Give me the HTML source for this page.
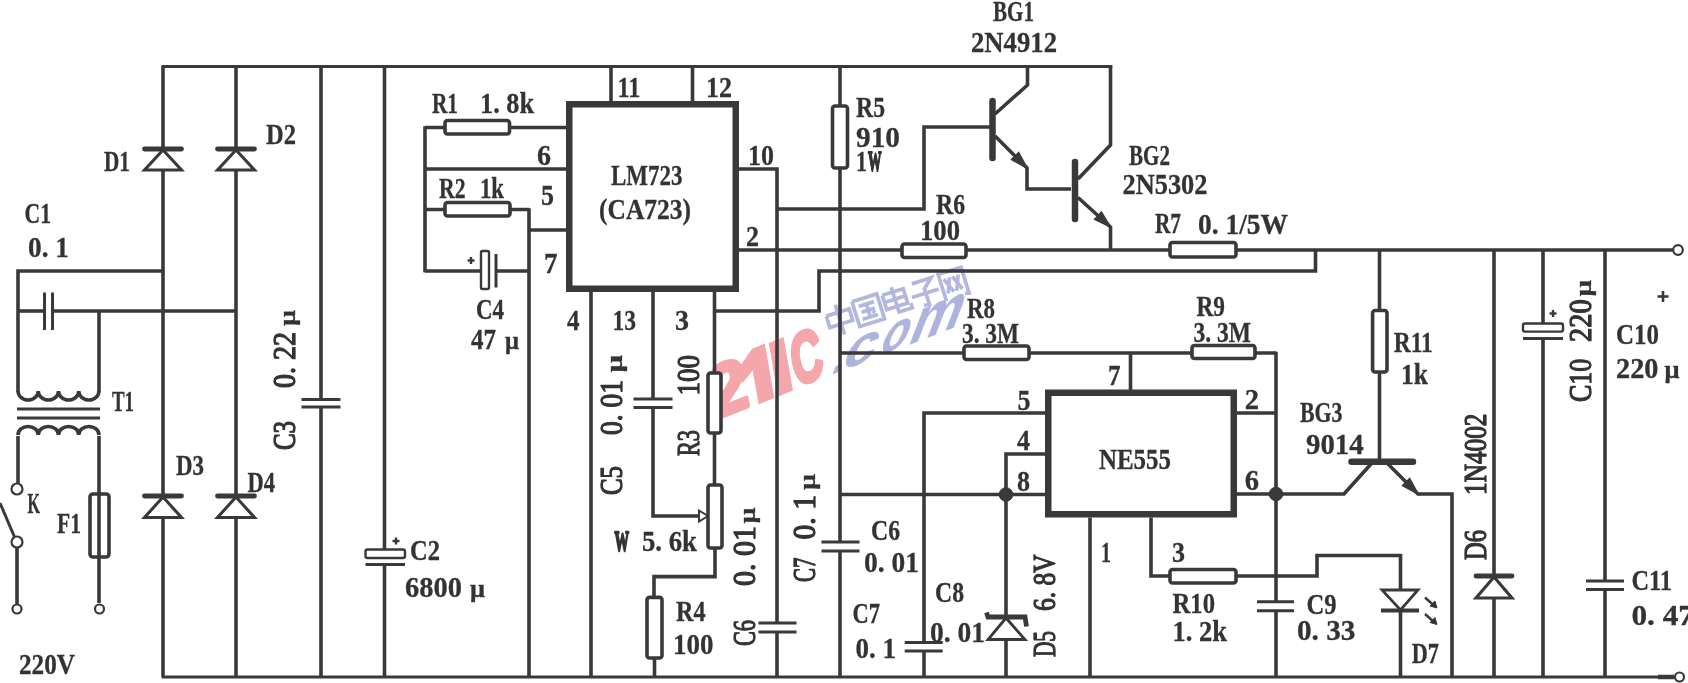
<!DOCTYPE html>
<html><head><meta charset="utf-8"><title>LM723 power supply schematic</title>
<style>
html,body{margin:0;padding:0;background:#fff;}
svg{display:block;filter:blur(0.45px)}
svg line, svg path, svg rect, svg circle{stroke:#393939;stroke-linecap:butt;stroke-linejoin:miter}
svg g.cn path{stroke:#b3b7de}
svg text{font-family:"Liberation Serif",serif;font-weight:bold;fill:#333;stroke:#333;stroke-width:0.3;stroke-linejoin:round}
</style></head><body>
<svg width="1688" height="683" viewBox="0 0 1688 683">
<rect x="0" y="0" width="1688" height="683" fill="#fff" stroke="none" style="stroke:none"/>
<g transform="translate(721,419) rotate(-22) skewX(-12)" style="fill:#f4a6ab;stroke:#f4a6ab;stroke-width:4;stroke-linejoin:miter"><text x="-7" y="-2" font-size="70" textLength="39" lengthAdjust="spacingAndGlyphs" style="font-family:'Liberation Sans',sans-serif;fill:#f4a6ab;stroke:#f4a6ab;stroke-width:4.5">2</text><path d="M41,0 L57,0 L57,-53 L44,-53 L28,-41 L28,-26 L41,-34 Z" style="stroke:#f4a6ab;stroke-width:1;fill:#f4a6ab"/><path d="M62,0 L77,0 L77,-52 L62,-52 Z" style="stroke:#f4a6ab;stroke-width:1;fill:#f4a6ab"/><text x="81" y="-2" font-size="69" textLength="32" lengthAdjust="spacingAndGlyphs" style="font-family:'Liberation Sans',sans-serif;fill:#f4a6ab;stroke:#f4a6ab;stroke-width:4.5">C</text></g>
<g transform="translate(830,338) rotate(-17.5)" style="stroke:#b3b7de;stroke-width:3.7;fill:none" class="cn"><path d="M3.0,-22.0 L27.0,-22.0 L27.0,-10.0 L3.0,-10.0 L3.0,-22.0"/><path d="M15.0,-30.0 L15.0,1.0"/><path d="M31.8,-28.0 L57.8,-28.0 L57.8,-2.0 L31.8,-2.0 L31.8,-28.0"/><path d="M36.8,-21.5 L52.8,-21.5"/><path d="M37.8,-15.0 L51.8,-15.0"/><path d="M36.8,-8.0 L52.8,-8.0"/><path d="M44.8,-21.5 L44.8,-8.0"/><path d="M48.8,-13.0 L50.8,-10.5"/><path d="M62.6,-25.0 L84.6,-25.0 L84.6,-10.0 L62.6,-10.0 L62.6,-25.0"/><path d="M62.6,-17.5 L84.6,-17.5"/><path d="M73.6,-30.0 L73.6,-4.0 L87.6,-4.0 L87.6,-9.0"/><path d="M94.4,-27.0 L114.4,-27.0 L105.4,-19.0"/><path d="M104.9,-20.0 L104.9,-2.0 L99.4,-3.0"/><path d="M90.4,-14.0 L118.4,-14.0"/><path d="M122.2,0.0 L122.2,-28.0 L146.2,-28.0 L146.2,-1.0 L142.2,-2.0"/><path d="M126.2,-22.0 L132.2,-7.0"/><path d="M132.2,-22.0 L126.2,-7.0"/><path d="M135.2,-22.0 L141.2,-7.0"/><path d="M141.2,-22.0 L135.2,-7.0"/></g>
<g transform="translate(833,374) rotate(-21) skewX(-42)" style="font-family:'Liberation Sans',sans-serif;font-weight:bold;fill:#aeb3dc;stroke:#aeb3dc;stroke-width:4.5" class="com"><text x="-3" y="0" font-size="40" style="font-family:inherit;fill:inherit;stroke:inherit">.</text><text x="7" y="0" font-size="47" textLength="35" lengthAdjust="spacingAndGlyphs" style="font-family:inherit;fill:inherit;stroke:inherit">c</text><text x="47" y="-1" font-size="46" textLength="29" lengthAdjust="spacingAndGlyphs" style="font-family:inherit;fill:inherit;stroke:inherit">o</text><text x="78" y="0" font-size="54" textLength="55" lengthAdjust="spacingAndGlyphs" style="font-family:inherit;fill:inherit;stroke:inherit">m</text></g>
<line x1="161.7" y1="66.5" x2="1112.3" y2="66.5" stroke-width="3"/>
<line x1="161.7" y1="677" x2="1673" y2="677" stroke-width="3"/>
<line x1="1658" y1="677" x2="1674" y2="677" stroke-width="4.5"/>
<line x1="163" y1="66" x2="163" y2="149" stroke-width="3.6"/>
<line x1="163" y1="170" x2="163" y2="496" stroke-width="3.6"/>
<line x1="163" y1="517.5" x2="163" y2="677" stroke-width="3.6"/>
<path d="M163,150 L144.5,170 L181.5,170 Z" stroke-width="3.1" fill="none"/>
<line x1="144.5" y1="149" x2="181.5" y2="149" stroke-width="4.8" style="stroke-linecap:round"/>
<path d="M163,497 L144.5,517.5 L181.5,517.5 Z" stroke-width="3.1" fill="none"/>
<line x1="144.5" y1="496" x2="181.5" y2="496" stroke-width="4.8" style="stroke-linecap:round"/>
<line x1="236" y1="66" x2="236" y2="149" stroke-width="3.6"/>
<line x1="236" y1="170" x2="236" y2="496" stroke-width="3.6"/>
<line x1="236" y1="517.5" x2="236" y2="677" stroke-width="3.6"/>
<path d="M236,150 L217.5,170 L254.5,170 Z" stroke-width="3.1" fill="none"/>
<line x1="217.5" y1="149" x2="254.5" y2="149" stroke-width="4.8" style="stroke-linecap:round"/>
<path d="M236,497 L217.5,517.5 L254.5,517.5 Z" stroke-width="3.1" fill="none"/>
<line x1="217.5" y1="496" x2="254.5" y2="496" stroke-width="4.8" style="stroke-linecap:round"/>
<path d="M163,271 L18,271 L18,392" stroke-width="3.6" fill="none"/>
<line x1="18" y1="311" x2="44.5" y2="311" stroke-width="3.6"/>
<line x1="52.5" y1="311" x2="236" y2="311" stroke-width="3.6"/>
<line x1="44.5" y1="292.5" x2="44.5" y2="330" stroke-width="3"/>
<line x1="52.5" y1="292.5" x2="52.5" y2="330" stroke-width="3"/>
<line x1="99" y1="311" x2="99" y2="392" stroke-width="3.6"/>
<path d="M18,391 a10.12,9 0 0 0 20.25,0 a10.12,9 0 0 0 20.25,0 a10.12,9 0 0 0 20.25,0 a10.12,9 0 0 0 20.25,0" stroke-width="3.6" fill="none"/>
<line x1="17" y1="409" x2="100" y2="409" stroke-width="3"/>
<line x1="17" y1="418" x2="100" y2="418" stroke-width="3"/>
<path d="M18,435 a10.12,8.5 0 0 1 20.25,0 a10.12,8.5 0 0 1 20.25,0 a10.12,8.5 0 0 1 20.25,0 a10.12,8.5 0 0 1 20.25,0" stroke-width="3.6" fill="none"/>
<line x1="18" y1="436" x2="18" y2="483" stroke-width="3.6"/>
<line x1="99" y1="436" x2="99" y2="603" stroke-width="3.6"/>
<circle cx="17" cy="489" r="5.5" fill="#fff" stroke-width="2.2"/>
<line x1="0" y1="503" x2="14.5" y2="537" stroke-width="3"/>
<circle cx="17" cy="542" r="5.5" fill="#fff" stroke-width="2.2"/>
<line x1="17" y1="548" x2="17" y2="604" stroke-width="3.6"/>
<circle cx="17" cy="609" r="4.5" fill="#fff" stroke-width="2.2"/>
<rect x="90" y="494" width="19" height="63" rx="3" stroke-width="3.6" fill="none"/>
<circle cx="99.5" cy="609" r="4.5" fill="#fff" stroke-width="2.2"/>
<line x1="321" y1="66" x2="321" y2="399.5" stroke-width="3.6"/>
<line x1="321" y1="407" x2="321" y2="677" stroke-width="3.6"/>
<line x1="301.5" y1="399.5" x2="340.5" y2="399.5" stroke-width="3"/>
<line x1="301.5" y1="407" x2="340.5" y2="407" stroke-width="3"/>
<line x1="384.5" y1="66" x2="384.5" y2="549.5" stroke-width="3.6"/>
<line x1="384.5" y1="564.5" x2="384.5" y2="677" stroke-width="3.6"/>
<rect x="365.5" y="549.5" width="39.5" height="8.5" rx="2" stroke-width="2.4" fill="#fff"/>
<line x1="365.5" y1="564.5" x2="405" y2="564.5" stroke-width="3"/>
<line x1="392.5" y1="541" x2="399.5" y2="541" stroke-width="2.4"/>
<line x1="396" y1="537.5" x2="396" y2="544.5" stroke-width="2.4"/>
<rect x="569.25" y="104.25" width="166.5" height="184.5" stroke-width="6.5" fill="none"/>
<line x1="611" y1="66" x2="611" y2="101" stroke-width="3.6"/>
<line x1="692.5" y1="66" x2="692.5" y2="101" stroke-width="3.6"/>
<line x1="425" y1="127.5" x2="566" y2="127.5" stroke-width="3.6"/>
<rect x="445" y="120.5" width="64.5" height="13.5" rx="2.5" stroke-width="3.6" fill="#fff"/>
<line x1="425" y1="126.2" x2="425" y2="272.3" stroke-width="3.6"/>
<line x1="425" y1="169" x2="566" y2="169" stroke-width="3.6"/>
<line x1="425" y1="209.5" x2="529" y2="209.5" stroke-width="3.6"/>
<rect x="445" y="202.5" width="65" height="13.5" rx="2.5" stroke-width="3.6" fill="#fff"/>
<line x1="529" y1="208.2" x2="529" y2="677" stroke-width="3.6"/>
<line x1="529" y1="230" x2="566" y2="230" stroke-width="3.6"/>
<line x1="425" y1="271" x2="481" y2="271" stroke-width="3.6"/>
<rect x="481" y="251" width="8" height="38" rx="1.5" stroke-width="2.4" fill="#fff"/>
<line x1="496" y1="254" x2="496" y2="287.5" stroke-width="3"/>
<line x1="496" y1="271" x2="529" y2="271" stroke-width="3.6"/>
<line x1="467.5" y1="260.5" x2="474.5" y2="260.5" stroke-width="2.4"/>
<line x1="471" y1="257" x2="471" y2="264" stroke-width="2.4"/>
<path d="M739,169 L777,169 L777,623" stroke-width="3.6" fill="none"/>
<line x1="777" y1="632" x2="777" y2="677" stroke-width="3.6"/>
<line x1="758.5" y1="623" x2="796.5" y2="623" stroke-width="3"/>
<line x1="758.5" y1="632" x2="796.5" y2="632" stroke-width="3"/>
<path d="M777,209 L924,209 L924,127 L992,127" stroke-width="3.6" fill="none"/>
<line x1="739" y1="250" x2="1673" y2="250" stroke-width="3.6"/>
<rect x="902" y="244" width="64" height="13.5" rx="2.5" stroke-width="3.6" fill="#fff"/>
<rect x="1170" y="242.5" width="66" height="14.5" rx="2.5" stroke-width="3.6" fill="#fff"/>
<circle cx="1678" cy="250" r="4.8" fill="#fff" stroke-width="2.2"/>
<line x1="591" y1="292" x2="591" y2="677" stroke-width="3.6"/>
<line x1="653" y1="292" x2="653" y2="399" stroke-width="3.6"/>
<line x1="633.5" y1="399" x2="672.5" y2="399" stroke-width="3"/>
<line x1="633.5" y1="407.5" x2="672.5" y2="407.5" stroke-width="3"/>
<path d="M653,407.5 L653,516 L699,516" stroke-width="3.6" fill="none"/>
<path d="M699,510.5 L708,516 L699,521.5 Z" stroke-width="2" fill="none"/>
<line x1="714.5" y1="292" x2="714.5" y2="373" stroke-width="3.6"/>
<rect x="708" y="373" width="13" height="60" rx="2.5" stroke-width="3.6" fill="#fff"/>
<line x1="714.5" y1="433" x2="714.5" y2="485" stroke-width="3.6"/>
<rect x="708" y="485" width="14" height="63" rx="2.5" stroke-width="3.6" fill="#fff"/>
<path d="M715,548 L715,576.6 L654,576.6 L654,597.4" stroke-width="3.6" fill="none"/>
<rect x="647" y="597.4" width="15" height="60.60000000000002" rx="2.5" stroke-width="3.6" fill="#fff"/>
<line x1="654.5" y1="658" x2="654.5" y2="677" stroke-width="3.6"/>
<path d="M714.5,311 L819,311 L819,271 L1315.5,271 L1315.5,250" stroke-width="3.6" fill="none"/>
<line x1="840" y1="66" x2="840" y2="106" stroke-width="3.6"/>
<rect x="832.5" y="106" width="15.0" height="62" rx="2.5" stroke-width="3.6" fill="#fff"/>
<line x1="840" y1="168" x2="840" y2="542" stroke-width="3.6"/>
<line x1="821.5" y1="542" x2="859.5" y2="542" stroke-width="3"/>
<line x1="821.5" y1="551" x2="859.5" y2="551" stroke-width="3"/>
<line x1="840" y1="551" x2="840" y2="677" stroke-width="3.6"/>
<line x1="840" y1="353" x2="1276" y2="353" stroke-width="3.6"/>
<rect x="964" y="346" width="65" height="13.5" rx="2.5" stroke-width="3.6" fill="#fff"/>
<rect x="1192" y="345.5" width="63" height="13.0" rx="2.5" stroke-width="3.6" fill="#fff"/>
<line x1="1276" y1="351.7" x2="1276" y2="601.7" stroke-width="3.6"/>
<line x1="1257.0" y1="601.7" x2="1294.0" y2="601.7" stroke-width="3"/>
<line x1="1257.0" y1="610.7" x2="1294.0" y2="610.7" stroke-width="3"/>
<line x1="1276" y1="610.7" x2="1276" y2="677" stroke-width="3.6"/>
<line x1="1130.5" y1="353" x2="1130.5" y2="390" stroke-width="3.6"/>
<rect x="1048.25" y="392.75" width="185.5" height="121.5" stroke-width="6.5" fill="none"/>
<path d="M1045,413 L924,413 L924,642.5" stroke-width="3.6" fill="none"/>
<line x1="904.7" y1="642.5" x2="942.7" y2="642.5" stroke-width="3"/>
<line x1="904.7" y1="651" x2="942.7" y2="651" stroke-width="3"/>
<line x1="924" y1="651" x2="924" y2="677" stroke-width="3.6"/>
<path d="M1045,454 L1006,454 L1006,617" stroke-width="3.6" fill="none"/>
<line x1="840" y1="494.5" x2="1045" y2="494.5" stroke-width="3.6"/>
<circle cx="1006" cy="494.5" r="6.8" fill="#393939" stroke="none"/>
<path d="M1006,618 L988,639.5 L1025,639.5 Z" stroke-width="2.8" fill="none"/>
<path d="M986.5,612.5 L988,617 L1025,617 L1026.5,626.5" stroke-width="4.8" fill="none"/>
<line x1="1006" y1="639.5" x2="1006" y2="677" stroke-width="3.6"/>
<line x1="1237" y1="413" x2="1276" y2="413" stroke-width="3.6"/>
<path d="M1237,494 L1344,494 L1371,464" stroke-width="3.6" fill="none"/>
<circle cx="1276" cy="494" r="6.8" fill="#393939" stroke="none"/>
<line x1="1351.5" y1="461.7" x2="1413" y2="461.7" stroke-width="6.5" style="stroke-linecap:round"/>
<line x1="1379.5" y1="250" x2="1379.5" y2="310.5" stroke-width="3.6"/>
<rect x="1372.6" y="310.5" width="14.400000000000091" height="61.5" rx="2.5" stroke-width="3.6" fill="#fff"/>
<line x1="1379.5" y1="372" x2="1379.5" y2="461.7" stroke-width="3.6"/>
<path d="M1388,464 L1418,494 L1452,494 L1452,677" stroke-width="3.6" fill="none"/>
<path d="M1418.5,494.5 L1402.3,485.7 L1409.7,478.3 Z" stroke-width="1.2" fill="#3a3a3a"/>
<line x1="1090" y1="517.5" x2="1090" y2="677" stroke-width="3.6"/>
<path d="M1151,517.5 L1151,576 L1170,576" stroke-width="3.6" fill="none"/>
<rect x="1170" y="569.5" width="66" height="13.5" rx="2.5" stroke-width="3.6" fill="#fff"/>
<path d="M1236,576 L1317,576 L1317,555.5 L1400.5,555.5 L1400.5,590" stroke-width="3.6" fill="none"/>
<path d="M1382,590 L1418,590 L1400.5,610 Z" stroke-width="2.8" fill="none"/>
<line x1="1381" y1="610.5" x2="1419" y2="610.5" stroke-width="4"/>
<line x1="1400.5" y1="610" x2="1400.5" y2="677" stroke-width="3.6"/>
<line x1="1425" y1="597.5" x2="1434" y2="605.5" stroke-width="2.4"/>
<path d="M1437,608.0 L1430,606.0 L1435,601.0 Z" stroke-width="1" fill="#333"/>
<line x1="1425" y1="614" x2="1434" y2="622" stroke-width="2.4"/>
<path d="M1437,624.5 L1430,622.5 L1435,617.5 Z" stroke-width="1" fill="#333"/>
<line x1="1494" y1="250" x2="1494" y2="576" stroke-width="3.6"/>
<path d="M1494,577 L1476,598 L1512,598 Z" stroke-width="3.1" fill="none"/>
<line x1="1476.0" y1="576" x2="1512.0" y2="576" stroke-width="4.8" style="stroke-linecap:round"/>
<line x1="1494" y1="598" x2="1494" y2="677" stroke-width="3.6"/>
<line x1="1543" y1="250" x2="1543" y2="323.5" stroke-width="3.6"/>
<rect x="1523" y="323.5" width="40" height="8.100000000000023" rx="2" stroke-width="2.4" fill="#fff"/>
<line x1="1523" y1="338.5" x2="1563" y2="338.5" stroke-width="3"/>
<line x1="1543" y1="338.5" x2="1543" y2="677" stroke-width="3.6"/>
<line x1="1549.5" y1="313.5" x2="1556.5" y2="313.5" stroke-width="2.4"/>
<line x1="1553" y1="310" x2="1553" y2="317" stroke-width="2.4"/>
<line x1="1605" y1="250" x2="1605" y2="581" stroke-width="3.6"/>
<line x1="1586" y1="581" x2="1624" y2="581" stroke-width="3"/>
<line x1="1586" y1="589.6" x2="1624" y2="589.6" stroke-width="3"/>
<line x1="1605" y1="589.6" x2="1605" y2="677" stroke-width="3.6"/>
<circle cx="1679.5" cy="677" r="4.5" fill="#fff" stroke-width="2.2"/>
<line x1="992.5" y1="101" x2="992.5" y2="158" stroke-width="6.5" style="stroke-linecap:round"/>
<path d="M995,114 L1027.5,85 L1027.5,66" stroke-width="3.6" fill="none"/>
<path d="M995,136 L1027,168 L1027,189 L1071,189" stroke-width="3.6" fill="none"/>
<path d="M1027.5,168.5 L1011.3,159.7 L1018.7,152.3 Z" stroke-width="1.2" fill="#3a3a3a"/>
<line x1="1075" y1="162" x2="1075" y2="219" stroke-width="6.5" style="stroke-linecap:round"/>
<path d="M1078,179 L1110.5,145 L1110.5,66" stroke-width="3.6" fill="none"/>
<path d="M1078,197.5 L1110.5,227 L1110.5,250" stroke-width="3.6" fill="none"/>
<path d="M1111,227.5 L1094.4,219.4 L1101.4,211.8 Z" stroke-width="1.2" fill="#3a3a3a"/>
<line x1="1657.5" y1="296.5" x2="1668.5" y2="296.5" stroke-width="2.6"/>
<line x1="1663" y1="291" x2="1663" y2="302" stroke-width="2.6"/>
<text x="104" y="171" font-size="29" textLength="26.0" lengthAdjust="spacingAndGlyphs">D1</text>
<text x="266" y="144" font-size="29" textLength="30.0" lengthAdjust="spacingAndGlyphs">D2</text>
<text x="24.5" y="222.5" font-size="29" textLength="26.5" lengthAdjust="spacingAndGlyphs">C1</text>
<text x="28" y="257" font-size="29" textLength="41.0" lengthAdjust="spacingAndGlyphs">0. 1</text>
<text x="112" y="410.5" font-size="29" textLength="22.0" lengthAdjust="spacingAndGlyphs">T1</text>
<text x="27.5" y="512.5" font-size="29" textLength="12.5" lengthAdjust="spacingAndGlyphs">K</text>
<text x="57" y="533" font-size="29" textLength="24.0" lengthAdjust="spacingAndGlyphs">F1</text>
<text x="19" y="674" font-size="29" textLength="56.0" lengthAdjust="spacingAndGlyphs">220V</text>
<text x="176" y="475" font-size="29" textLength="28.0" lengthAdjust="spacingAndGlyphs">D3</text>
<text x="247.5" y="491.5" font-size="29" textLength="27.5" lengthAdjust="spacingAndGlyphs">D4</text>
<text x="410" y="559.5" font-size="29" textLength="30.0" lengthAdjust="spacingAndGlyphs">C2</text>
<text x="405" y="596.5" font-size="29" textLength="57.0" lengthAdjust="spacingAndGlyphs">6800</text>
<text x="470" y="596.5" font-size="25" textLength="15.0" lengthAdjust="spacingAndGlyphs">μ</text>
<text x="432" y="113" font-size="29" textLength="26.0" lengthAdjust="spacingAndGlyphs">R1</text>
<text x="480" y="113" font-size="29" textLength="54.0" lengthAdjust="spacingAndGlyphs">1. 8k</text>
<text x="537" y="164.5" font-size="29" textLength="14.0" lengthAdjust="spacingAndGlyphs">6</text>
<text x="439" y="198" font-size="29" textLength="26.5" lengthAdjust="spacingAndGlyphs">R2</text>
<text x="480" y="198" font-size="29" textLength="24.0" lengthAdjust="spacingAndGlyphs">1k</text>
<text x="541" y="205" font-size="29" textLength="13.0" lengthAdjust="spacingAndGlyphs">5</text>
<text x="544" y="273" font-size="29" textLength="13.5" lengthAdjust="spacingAndGlyphs">7</text>
<text x="617.5" y="97" font-size="29" textLength="23.0" lengthAdjust="spacingAndGlyphs">11</text>
<text x="706" y="97" font-size="29" textLength="26.0" lengthAdjust="spacingAndGlyphs">12</text>
<text x="748" y="164.5" font-size="29" textLength="26.0" lengthAdjust="spacingAndGlyphs">10</text>
<text x="611" y="185" font-size="29" textLength="71.5" lengthAdjust="spacingAndGlyphs">LM723</text>
<text x="599" y="218.5" font-size="29" textLength="92.0" lengthAdjust="spacingAndGlyphs">(CA723)</text>
<text x="746" y="246" font-size="29" textLength="13.0" lengthAdjust="spacingAndGlyphs">2</text>
<text x="567" y="330" font-size="29" textLength="12.5" lengthAdjust="spacingAndGlyphs">4</text>
<text x="612.5" y="330" font-size="29" textLength="23.5" lengthAdjust="spacingAndGlyphs">13</text>
<text x="675" y="330" font-size="29" textLength="14.0" lengthAdjust="spacingAndGlyphs">3</text>
<text x="476" y="319" font-size="29" textLength="28.0" lengthAdjust="spacingAndGlyphs">C4</text>
<text x="471" y="349" font-size="29" textLength="25.0" lengthAdjust="spacingAndGlyphs">47</text>
<text x="505" y="349" font-size="25" textLength="14.0" lengthAdjust="spacingAndGlyphs">μ</text>
<text style="stroke-width:2.3" x="614.5" y="551" font-size="29" textLength="14.5" lengthAdjust="spacingAndGlyphs">W</text>
<text x="642" y="551" font-size="29" textLength="55.0" lengthAdjust="spacingAndGlyphs">5. 6k</text>
<text x="676" y="620.5" font-size="29" textLength="29.5" lengthAdjust="spacingAndGlyphs">R4</text>
<text x="673" y="654" font-size="29" textLength="40.5" lengthAdjust="spacingAndGlyphs">100</text>
<text x="856" y="117" font-size="29" textLength="29.0" lengthAdjust="spacingAndGlyphs">R5</text>
<text x="856" y="146.5" font-size="29" textLength="44.0" lengthAdjust="spacingAndGlyphs">910</text>
<text x="856" y="171" font-size="29" textLength="11.0" lengthAdjust="spacingAndGlyphs">1</text>
<text style="stroke-width:2.0" x="868" y="171" font-size="29" textLength="13.5" lengthAdjust="spacingAndGlyphs">W</text>
<text x="993" y="21" font-size="29" textLength="41.0" lengthAdjust="spacingAndGlyphs">BG1</text>
<text x="971" y="52" font-size="29" textLength="86.0" lengthAdjust="spacingAndGlyphs">2N4912</text>
<text x="1129" y="165" font-size="29" textLength="41.0" lengthAdjust="spacingAndGlyphs">BG2</text>
<text x="1122.5" y="194" font-size="29" textLength="85.0" lengthAdjust="spacingAndGlyphs">2N5302</text>
<text x="936" y="214" font-size="29" textLength="29.0" lengthAdjust="spacingAndGlyphs">R6</text>
<text x="920" y="239.5" font-size="29" textLength="40.0" lengthAdjust="spacingAndGlyphs">100</text>
<text x="1155" y="233" font-size="29" textLength="26.0" lengthAdjust="spacingAndGlyphs">R7</text>
<text x="1198" y="233.5" font-size="29" textLength="90.0" lengthAdjust="spacingAndGlyphs">0. 1/5W</text>
<text x="967" y="317.5" font-size="29" textLength="28.0" lengthAdjust="spacingAndGlyphs">R8</text>
<text x="962" y="342.5" font-size="29" textLength="57.0" lengthAdjust="spacingAndGlyphs">3. 3M</text>
<text x="1196.5" y="316" font-size="29" textLength="28.5" lengthAdjust="spacingAndGlyphs">R9</text>
<text x="1193.5" y="342" font-size="29" textLength="57.5" lengthAdjust="spacingAndGlyphs">3. 3M</text>
<text x="1108" y="384.5" font-size="29" textLength="12.5" lengthAdjust="spacingAndGlyphs">7</text>
<text x="1017.5" y="410" font-size="29" textLength="13.0" lengthAdjust="spacingAndGlyphs">5</text>
<text x="1017" y="450" font-size="29" textLength="13.0" lengthAdjust="spacingAndGlyphs">4</text>
<text x="1017" y="490.5" font-size="29" textLength="13.0" lengthAdjust="spacingAndGlyphs">8</text>
<text x="1099" y="469" font-size="29" textLength="72.0" lengthAdjust="spacingAndGlyphs">NE555</text>
<text x="1244.7" y="409" font-size="29" textLength="14.3" lengthAdjust="spacingAndGlyphs">2</text>
<text x="1244.7" y="490" font-size="29" textLength="14.3" lengthAdjust="spacingAndGlyphs">6</text>
<text x="1101" y="562" font-size="29" textLength="10.0" lengthAdjust="spacingAndGlyphs">1</text>
<text x="1172" y="562" font-size="29" textLength="13.0" lengthAdjust="spacingAndGlyphs">3</text>
<text x="1172.5" y="613" font-size="29" textLength="42.5" lengthAdjust="spacingAndGlyphs">R10</text>
<text x="1172.5" y="641" font-size="29" textLength="54.5" lengthAdjust="spacingAndGlyphs">1. 2k</text>
<text x="871" y="539.5" font-size="29" textLength="29.0" lengthAdjust="spacingAndGlyphs">C6</text>
<text x="864" y="571.5" font-size="29" textLength="55.0" lengthAdjust="spacingAndGlyphs">0. 01</text>
<text x="852.5" y="623" font-size="29" textLength="27.5" lengthAdjust="spacingAndGlyphs">C7</text>
<text x="855.5" y="658" font-size="29" textLength="40.5" lengthAdjust="spacingAndGlyphs">0. 1</text>
<text x="935" y="601.5" font-size="29" textLength="29.0" lengthAdjust="spacingAndGlyphs">C8</text>
<text x="930" y="642" font-size="29" textLength="55.0" lengthAdjust="spacingAndGlyphs">0. 01</text>
<text x="1393.7" y="352" font-size="29" textLength="39.1" lengthAdjust="spacingAndGlyphs">R11</text>
<text x="1401" y="383.7" font-size="29" textLength="27.0" lengthAdjust="spacingAndGlyphs">1k</text>
<text x="1300" y="422" font-size="29" textLength="42.5" lengthAdjust="spacingAndGlyphs">BG3</text>
<text x="1306" y="453.5" font-size="29" textLength="57.6" lengthAdjust="spacingAndGlyphs">9014</text>
<text x="1306.4" y="613.7" font-size="29" textLength="30.1" lengthAdjust="spacingAndGlyphs">C9</text>
<text x="1297" y="640" font-size="29" textLength="58.4" lengthAdjust="spacingAndGlyphs">0. 33</text>
<text x="1411.7" y="662.5" font-size="29" textLength="27.1" lengthAdjust="spacingAndGlyphs">D7</text>
<text x="1616" y="343.6" font-size="29" textLength="43.0" lengthAdjust="spacingAndGlyphs">C10</text>
<text x="1616" y="378" font-size="29" textLength="42.5" lengthAdjust="spacingAndGlyphs">220</text>
<text x="1664.5" y="378" font-size="25" textLength="15.0" lengthAdjust="spacingAndGlyphs">μ</text>
<text x="1631.4" y="590" font-size="29" textLength="40.6" lengthAdjust="spacingAndGlyphs">C11</text>
<text x="1631.4" y="625" font-size="29" textLength="62.6" lengthAdjust="spacingAndGlyphs">0. 47</text>
<text style="font-weight:normal;stroke-width:1.25" transform="translate(295,450) rotate(-90)" font-size="31" textLength="29.0" lengthAdjust="spacingAndGlyphs">C3</text>
<text style="font-weight:normal;stroke-width:1.25" transform="translate(295,388) rotate(-90)" font-size="31" textLength="56.0" lengthAdjust="spacingAndGlyphs">0. 22</text>
<text transform="translate(295,326) rotate(-90)" font-size="24" textLength="16.0" lengthAdjust="spacingAndGlyphs">μ</text>
<text style="font-weight:normal;stroke-width:1.25" transform="translate(622,495) rotate(-90)" font-size="31" textLength="29.0" lengthAdjust="spacingAndGlyphs">C5</text>
<text style="font-weight:normal;stroke-width:1.25" transform="translate(622,435) rotate(-90)" font-size="31" textLength="55.0" lengthAdjust="spacingAndGlyphs">0. 01</text>
<text transform="translate(622,372.5) rotate(-90)" font-size="24" textLength="17.5" lengthAdjust="spacingAndGlyphs">μ</text>
<text style="font-weight:normal;stroke-width:1.25" transform="translate(699,456) rotate(-90)" font-size="31" textLength="26.0" lengthAdjust="spacingAndGlyphs">R3</text>
<text style="font-weight:normal;stroke-width:1.25" transform="translate(699,395.5) rotate(-90)" font-size="31" textLength="40.5" lengthAdjust="spacingAndGlyphs">100</text>
<text style="font-weight:normal;stroke-width:1.25" transform="translate(755,646) rotate(-90)" font-size="31" textLength="26.0" lengthAdjust="spacingAndGlyphs">C6</text>
<text style="font-weight:normal;stroke-width:1.25" transform="translate(755,586) rotate(-90)" font-size="31" textLength="60.0" lengthAdjust="spacingAndGlyphs">0. 01</text>
<text transform="translate(755,523.6) rotate(-90)" font-size="24" textLength="16.0" lengthAdjust="spacingAndGlyphs">μ</text>
<text style="font-weight:normal;stroke-width:1.25" transform="translate(814.6,582) rotate(-90)" font-size="31" textLength="24.5" lengthAdjust="spacingAndGlyphs">C7</text>
<text style="font-weight:normal;stroke-width:1.25" transform="translate(814.6,539.6) rotate(-90)" font-size="31" textLength="44.6" lengthAdjust="spacingAndGlyphs">0. 1</text>
<text transform="translate(814.6,490) rotate(-90)" font-size="24" textLength="16.0" lengthAdjust="spacingAndGlyphs">μ</text>
<text style="font-weight:normal;stroke-width:1.25" transform="translate(1055,657) rotate(-90)" font-size="31" textLength="26.0" lengthAdjust="spacingAndGlyphs">D5</text>
<text style="font-weight:normal;stroke-width:1.25" transform="translate(1055,611) rotate(-90)" font-size="31" textLength="56.5" lengthAdjust="spacingAndGlyphs">6. 8V</text>
<text style="font-weight:normal;stroke-width:1.25" transform="translate(1485.5,560) rotate(-90)" font-size="31" textLength="30.0" lengthAdjust="spacingAndGlyphs">D6</text>
<text style="font-weight:normal;stroke-width:1.25" transform="translate(1485.5,495) rotate(-90)" font-size="31" textLength="81.5" lengthAdjust="spacingAndGlyphs">1N4002</text>
<text style="font-weight:normal;stroke-width:1.25" transform="translate(1591,402) rotate(-90)" font-size="31" textLength="43.3" lengthAdjust="spacingAndGlyphs">C10</text>
<text style="font-weight:normal;stroke-width:1.25" transform="translate(1591,342) rotate(-90)" font-size="31" textLength="42.6" lengthAdjust="spacingAndGlyphs">220</text>
<text transform="translate(1591,296.4) rotate(-90)" font-size="24" textLength="16.4" lengthAdjust="spacingAndGlyphs">μ</text>
</svg>
</body></html>
